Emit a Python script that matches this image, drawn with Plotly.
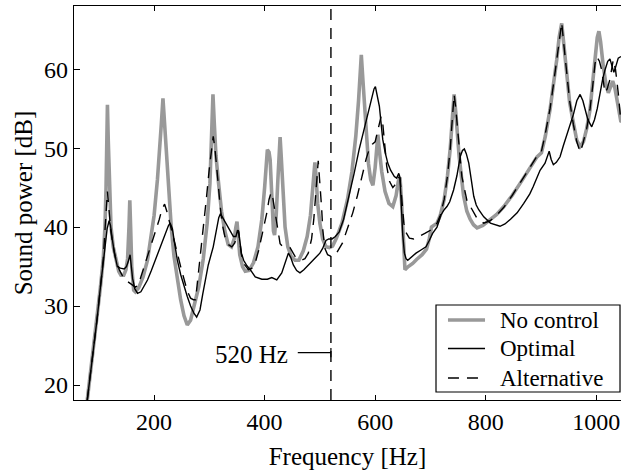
import plotly.graph_objects as go

# Sound power spectra (frequency in Hz, level in dB)
f_nocontrol = [79, 85, 91, 97, 103, 108, 111, 113, 114.5, 115.5, 117, 119, 122, 126, 132, 136, 140, 145,
               149, 152, 154.5, 156, 157.5, 159.5, 163, 166, 172, 180, 188, 194, 200, 206, 210, 213, 216, 219, 222,
               226, 231, 236, 242, 248, 254, 260, 266, 274, 281, 289, 296, 301, 304, 306.5, 309, 312, 316,
               322, 328, 334, 340, 345, 348, 350, 352, 355, 360, 365, 372, 380, 388, 395, 400, 403, 405,
               408, 410, 413, 416, 418, 421, 424, 426, 428, 430, 433, 437, 442, 448, 455, 462, 470, 477,
               483, 487, 489, 491, 493, 496, 500, 505, 511, 517, 523, 530, 540, 550, 558, 565, 570, 573,
               575, 578, 581, 584, 588, 592, 596, 600, 603, 605, 608, 612, 618, 625, 632, 638, 642, 645,
               648, 651, 654, 660, 668, 675, 685, 693, 698, 702, 707, 712, 718, 725, 731, 736, 740, 743,
               746, 749, 752, 756, 760, 766, 772, 778, 784.5, 795, 808, 820, 833, 848, 863, 878, 893, 901,
               908, 916.6, 923, 928.7, 933, 937.7, 941, 946.8, 952, 958.8, 965, 971, 977, 983, 989, 994,
               998, 1002, 1005, 1008, 1013, 1018, 1022, 1026, 1030, 1034, 1038, 1045]
db_nocontrol = [18.1, 21.5, 25, 28.5, 32.5, 36, 40, 45, 51, 55.5, 51, 45, 40, 37.5, 35.5, 34.4, 33.9, 33.9,
                34.6, 36, 40, 43.4, 40, 35, 32, 31.8, 32.3, 33.7, 35.8, 38.4, 41.5, 46, 49.5, 53, 56.3, 53, 48.5,
                44, 40, 36.3, 33.2, 30.8, 28.8, 27.6, 28.2, 30.3, 32.5, 36, 40.5, 45.5, 51, 56.8, 53, 49, 46,
                42, 39.5, 37.8, 37.5, 38.5, 40, 40.7, 39, 36.5, 35, 34.4, 34.5, 35.5, 37.5, 41, 45, 48.5, 49.8,
                49.5, 48.5, 44, 39.5, 39, 41.5, 46, 49.5, 51.4, 49, 44, 40, 37.5, 36.3, 35.8, 35.8, 37, 38.8,
                41.5, 44.5, 46.5, 48.2, 46.5, 43, 40.5, 38.5, 37.5, 37.4, 37.6, 38.6, 40.5, 43.5, 47, 51.5, 56, 59.5,
                61.8, 58.5, 55, 51.5, 48, 46, 45.3, 47.5, 50.5, 51.7, 49.5, 47, 44.5, 43, 42.6, 44, 45.8, 46.3,
                43, 38, 34.6, 35.0, 35.4, 35.9, 36.5, 37.2, 38.5, 40, 40.3, 40.5, 41.5, 43.5, 46.5, 50, 54, 56.8,
                54.5, 51.5, 49, 46.5, 44, 42, 41, 40.3, 39.9, 40.2, 40.9, 41.6, 42.6, 44, 45.6, 47.3, 48.9, 49.4,
                51.5, 54.9, 58, 61.2, 64, 65.8, 63.5, 59, 55.8, 53.2, 51, 50.2, 50.8, 52.5, 54.9, 58.5,
                61.5, 64, 64.8, 63.5, 60.3, 58.0, 57, 57.8, 58.5, 57.6, 56, 53.3]

f_optimal = [79, 85, 91, 97, 103, 108, 112, 115, 118.5, 121, 124, 128, 133.5, 139, 145.7, 150, 153, 156.5, 158,
             161, 165, 170, 176, 182, 188, 195, 202, 212, 220, 226, 229, 233, 237, 242, 248, 254, 260, 266,
             272, 277, 283, 288, 293, 298, 307, 313, 317, 320, 324, 328, 332, 338, 343.5, 348, 351, 353,
             355, 358, 362, 368, 374, 383, 395, 405, 413, 422, 431, 437, 441, 443, 447, 452, 458, 464, 471,
             479, 490, 500, 505, 511, 516, 522, 528, 535, 543, 553, 562, 571, 579, 586.7, 593, 598, 600.5,
             603, 607.7, 611, 613.8, 618, 622.9, 628, 634.8, 639, 642.8, 645, 647, 650, 653, 656, 659, 664,
             674, 683, 692, 698, 704, 712, 719, 725, 730, 735, 742, 748, 754, 758, 761.5, 765, 769.5, 774,
             778.5, 783, 787.5, 796.6, 808.6, 826, 835, 845, 857, 869, 880, 886, 893, 898.5, 907.5, 911, 915,
             918.5, 922.6, 928, 934.7, 940.6, 947, 952.8, 959, 965, 971, 976, 980, 985, 992, 997, 1002, 1007,
             1012, 1016, 1021, 1025, 1029, 1032, 1035, 1040, 1045]
db_optimal = [18.1, 21.5, 25, 28.5, 32.5, 35.5, 37.8, 39.8, 40.8, 40.2, 38.6, 36.8, 35, 34.8, 34.7, 35, 35.6, 36.5, 35.5,
              33.5, 32.2, 31.6, 31.8, 32.5, 33.3, 34.5, 35.8, 37.5, 39.2, 40.2, 40.5, 39.8, 38, 35.8, 34, 32.5, 31.2, 30,
              29.1, 28.6, 29.5, 31.5, 33.5, 35.2, 37.5, 39.7, 41.2, 41.7, 41.2, 40.6, 40.1, 39.3, 38.8, 38.8, 39.6, 39.4,
              38.2, 36.7, 35.8, 35.1, 34.6, 33.7, 33.4, 33.4, 33.6, 33.3, 34.2, 35.5, 36.5, 36.7, 36.2, 35.2, 34.5, 34.2, 34.6,
              35.2, 36, 36.7, 37.3, 38.3, 38.5, 38.5, 38.8, 39.4, 41, 43.9, 46.8, 49.8, 52.2, 54.4, 56.3, 57.5, 57.8,
              57, 55.3, 53, 51.1, 49.5, 48.1, 47.2, 46.4, 46.2, 46.8, 46.3, 43, 39, 36.7, 36, 35.8, 36.1,
              36.7, 37.1, 37.5, 38.3, 39.2, 40, 41.5, 42.2, 42.6, 43.2, 44.7, 46.5, 48.9, 49.7, 49.9, 49.3, 48.1, 46,
              43.9, 42.8, 42.2, 41.3, 40.5, 40.1, 40.4, 41, 41.8, 43, 44.2, 45.1, 46.2, 47.2, 48.1, 48.8, 49.6,
              48.6, 47.9, 48.2, 48.9, 50.3, 51.7, 52.7, 54.3, 56, 56.8, 56, 54.9, 53.6, 52.7, 53.6, 55, 57,
              58.8, 59.9, 61, 61.3, 60.3, 59.6, 60.2, 61.4, 61.6]

f_alternative = [79, 85, 91, 97, 103, 108, 111, 113.5, 115.5, 118, 121.5, 126, 131, 137, 143, 150, 156, 161, 166,
                 171, 176, 182, 188, 194, 202, 209, 214, 219, 223, 227, 230, 236, 242, 248, 254, 260, 266, 271,
                 275, 280, 286, 291, 295, 300, 304, 307, 310, 313, 316, 319, 323, 328, 334, 340.6, 346, 350,
                 352.5, 355, 358, 363, 370.6, 377, 382.7, 389, 395, 400, 404, 408, 411.7, 415, 419, 422, 425,
                 428, 432, 440, 446, 455, 462, 467, 473, 479, 485, 489, 491, 494, 497, 500, 503, 505.5, 509,
                 514, 520, 525, 531, 541, 550, 559.5, 568, 577.6, 584, 590, 595, 600, 605, 610.7, 614, 617,
                 621, 626, 632, 638, 642, 645, 648, 652, 656, 662, 670, 680, 690, 700, 707, 712, 718, 725,
                 731, 736, 740, 743, 746, 751, 757, 766, 775, 784.5, 796.6, 808, 820, 833, 848, 863, 878, 893,
                 901, 908, 916.6, 923, 928.7, 933, 937.7, 941, 946.8, 952, 958.8, 965, 971, 975, 983, 989, 994,
                 998, 1001, 1006, 1010, 1016, 1020, 1025, 1031, 1035, 1040, 1045]
db_alternative = [18.1, 21.5, 25, 28.5, 32.5, 36, 39.5, 43, 44.5, 42.5, 39.6, 37.5, 35.8, 34.6, 33.8, 33.2, 32.9, 32.7, 32.4,
                  32.6, 33.7, 35, 36.4, 37.5, 39.5, 40.9, 42.2, 42.9, 42, 40.8, 40.1, 38.3, 36.7, 35, 33.3, 31.9, 31, 30.8,
                  30.8, 34, 37.5, 40.5, 43.9, 47.5, 50.2, 51.5, 50, 48.1, 45.5, 43, 40.5, 38.8, 37.8, 37.5, 38, 39,
                  39.6, 38.3, 36.5, 35.3, 34.6, 34.8, 35.4, 37, 38.8, 40.5, 41.8, 43.5, 44.4, 43.6, 41.8, 40.2, 38.8,
                  37.9, 37.6, 37.5, 37.4, 36.3, 35.9, 35.8, 36, 36.7, 38.5, 41, 42.5, 45.5, 48.4, 46, 42.6, 39.5, 37.3,
                  36.5, 36.3, 36.3, 36.8, 38, 39.8, 41.8, 44, 46.8, 48.7, 50, 50.5, 50.8, 52.5, 54, 53, 50.7,
                  47.7, 45.8, 45, 45.5, 46.3, 46.2, 43.5, 40.5, 39.3, 38.6, 38.5, 38.8, 39.2, 39.6, 40.2, 40.5, 41.5, 43.5,
                  46.5, 50, 54, 56.8, 55, 50.8, 46.4, 43.4, 42.2, 41.1, 40.5, 40.8, 41.5, 42.5, 44, 45.6, 47.3, 49,
                  49.6, 51.8, 55, 58.2, 61.3, 64, 65.9, 63.5, 59.3, 56, 53, 50.8, 49.5, 50.3, 52.5, 55, 58,
                  60.7, 61.6, 61, 59.9, 57, 57.5, 58.7, 61.2, 60, 57, 53.2]

x_ticks = [200, 400, 600, 800, 1000]
y_ticks = [20, 30, 40, 50, 60]
x_range = [55, 1045]
y_range = [18.1, 68]
f_marker = 520

FONT = "Liberation Serif, serif"
DASH = "11px,8px"
GRAY = "#999999"

fig = go.Figure()
fig.add_trace(go.Scatter(x=f_nocontrol, y=db_nocontrol, mode="lines", name="No control",
                         line=dict(color=GRAY, width=3.6)))
fig.add_trace(go.Scatter(x=f_optimal, y=db_optimal, mode="lines", name="Optimal",
                         line=dict(color="black", width=1.4)))
fig.add_trace(go.Scatter(x=f_alternative, y=db_alternative, mode="lines", name="Alternative",
                         line=dict(color="black", width=1.4, dash=DASH)))

# vertical marker at 520 Hz
fig.add_shape(type="line", xref="x", yref="paper", x0=f_marker, x1=f_marker, y0=0, y1=1,
              line=dict(color="black", width=1.4, dash=DASH))
# "520 Hz" pointer with end tick
fig.add_shape(type="line", xref="x", yref="y", x0=460, x1=f_marker, y0=24.1, y1=24.1,
              line=dict(color="black", width=1.2))
fig.add_shape(type="line", xref="x", yref="y", x0=f_marker, x1=f_marker, y0=23.5, y1=24.7,
              line=dict(color="black", width=1.2))
fig.add_annotation(x=446, y=23.9, xref="x", yref="y", text="520 Hz", showarrow=False,
                   xanchor="right", yanchor="middle", font=dict(family=FONT, size=25, color="black"))

# boxed legend in the lower right corner of the axes
box_x0, box_x1, box_y0, box_y1 = 0.6618, 0.9982, 0.0203, 0.2411
sample_x0, sample_x1, label_x = 0.6837, 0.7514, 0.7751
row_y = [0.2030, 0.1307, 0.0558]
fig.add_shape(type="rect", xref="paper", yref="paper", x0=box_x0, x1=box_x1, y0=box_y0, y1=box_y1,
              line=dict(color="black", width=1.2), fillcolor="white", layer="above")
for tr, ry in zip(fig.data, row_y):
    fig.add_shape(type="line", xref="paper", yref="paper", x0=sample_x0, x1=sample_x1, y0=ry, y1=ry,
                  line=dict(color=tr.line.color, width=tr.line.width, dash=tr.line.dash), layer="above")
    fig.add_annotation(x=label_x, y=ry, xref="paper", yref="paper", text=tr.name, showarrow=False,
                       xanchor="left", yanchor="middle", font=dict(family=FONT, size=23, color="black"))

fig.update_xaxes(range=x_range, tickvals=x_ticks, ticks="inside", ticklen=5, tickwidth=1.2,
                 tickcolor="black", showline=True, linecolor="black", linewidth=1.4, mirror="ticks",
                 showgrid=False, zeroline=False,
                 tickfont=dict(family=FONT, size=24, color="black"),
                 title=dict(text="Frequency [Hz]", font=dict(family=FONT, size=25, color="black"), standoff=13))
fig.update_yaxes(range=y_range, tickvals=y_ticks, ticks="inside", ticklen=6, tickwidth=1.2,
                 tickcolor="black", showline=True, linecolor="black", linewidth=1.4, mirror=False,
                 showgrid=False, zeroline=False,
                 tickfont=dict(family=FONT, size=24, color="black"),
                 title=dict(text="Sound power [dB]", font=dict(family=FONT, size=25, color="black"), standoff=4))

fig.update_layout(width=621, height=474, margin=dict(l=74, r=0, t=6, b=74),
                  paper_bgcolor="white", plot_bgcolor="white", showlegend=False,
                  font=dict(family=FONT, color="black"))

fig.write_html("out.html")
